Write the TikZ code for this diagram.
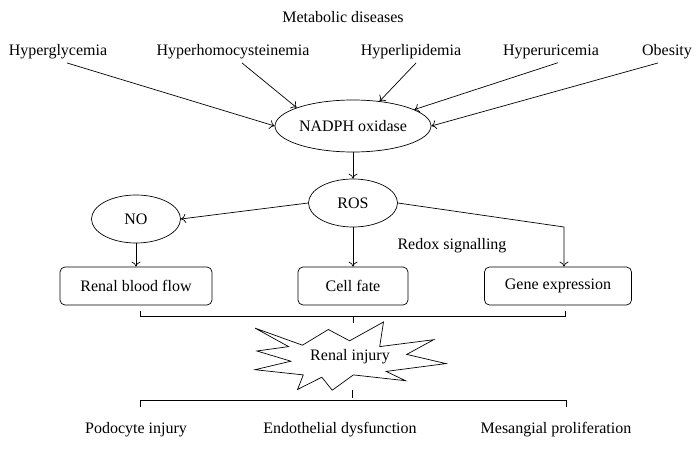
\documentclass[tikz,border=0pt]{standalone}
\usepackage{fontspec}
\setmainfont{Liberation Serif}
\usetikzlibrary{shapes.geometric,arrows.meta}

\begin{document}
\begin{tikzpicture}
    [x=1pt, y=-1pt, font=\fontsize{16}{18}\selectfont,
     line width=0.7pt, >={To[length=5pt,width=9pt]},
     oval/.style={draw, ellipse, minimum width=89pt, minimum height=48pt, inner sep=0pt},
     box/.style={draw, rounded corners=5pt, minimum height=38pt}]
    \useasboundingbox (0,0) rectangle (699,449);
    % top row
    \node (title) at (343,17) {Metabolic diseases};
    \node (glyc) at (58,52) {Hyperglycemia};
    \node (homo) at (233,52) {Hyperhomocysteinemia};
    \node (lipid) at (411,52) {Hyperlipidemia};
    \node (uric) at (551,52) {Hyperuricemia};
    \node (obes) at (667,52) {Obesity};
    \node[oval, minimum width=156pt, minimum height=52pt] (nadph) at (353,126) {NADPH oxidase};
    \draw[->] ([xshift=9pt]glyc.south) -- (nadph.west);
    \draw[->] ([xshift=9pt]homo.south) -- (nadph.162);
    \draw[->] ([xshift=5pt]lipid.south) -- (nadph.43);
    \draw[->] ([xshift=7pt]uric.south) -- (nadph.15);
    \draw[->] ([xshift=-9pt]obes.south) -- (nadph.east);
    % ROS and its targets
    \node[oval] (ros) at (353,203) {ROS};
    \node[oval] (no) at (136,219) {NO};
    \node (redox) at (452,246) {Redox signalling};
    \node[box, minimum width=152pt] (flow) at (136,286) {Renal blood flow};
    \node[box, minimum width=110pt] (fate) at (353,286) {Cell fate};
    \node[box, minimum width=147pt] (gene) at (558,286) {Gene expression};
    \coordinate (bend) at (564,227);
    \draw[->] (nadph) -- (ros);
    \draw[->] (ros.west) -- (no.east);
    \draw[->] (no) -- (flow);
    \draw[->] (ros) -- (fate);
    \draw[->] (ros.east) -- (bend) -- (bend |- gene.north);
    % renal injury
    \draw[line join=miter] (255,328.1) -- (302.5,345.2) -- (328.3,329.5) -- (349.6,340.8)
      -- (383.5,322) -- (379.7,346.6) -- (433.7,339.7) -- (406.7,354.4) -- (446,363.6)
      -- (386.2,371.4) -- (405.5,380.7) -- (353.4,374.9) -- (332.2,390.2) -- (321.8,377.2)
      -- (297.5,389.5) -- (303.3,374.9) -- (255,369.7) -- (290.9,361.2) -- (256.9,351)
      -- (288.6,346.6) -- cycle;
    \node (injury) at (350,357) {Renal injury};
    \draw ([shift={(4,6)}]flow.south) -- ++(0,5) -| ([shift={(7,6)}]gene.south);
    \draw ([shift={(0,11)}]fate.south) -- ++(0,7);
    \node (podo) at (136,430) {Podocyte injury};
    \node (endo) at (340,430) {Endothelial dysfunction};
    \node (mesa) at (556,430) {Mesangial proliferation};
    \draw ([shift={(4,-12)}]podo.north) -- ++(0,-7) -| ([shift={(10,-12)}]mesa.north);
    \draw ([shift={(2,33)}]injury.center) -- ++(0,8);
\end{tikzpicture}
\end{document}
